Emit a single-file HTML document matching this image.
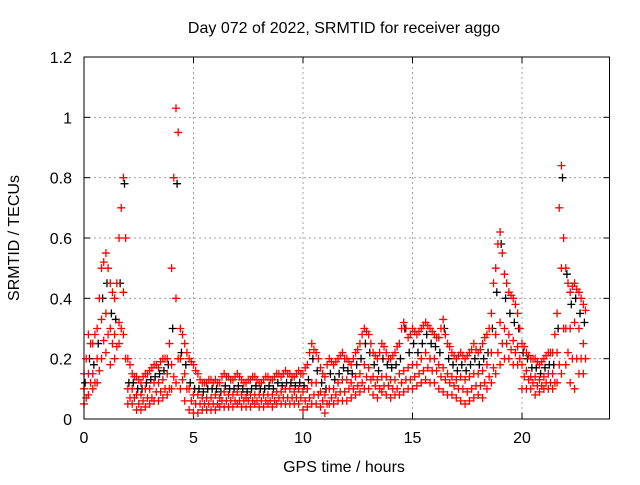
<!DOCTYPE html>
<html><head><meta charset="utf-8"><style>
body{margin:0;background:#fff;}
svg text{font-family:"Liberation Sans",sans-serif;font-size:16px;fill:#000;}
</style></head><body>
<svg width="640" height="480" id="chart">
<g id="grid"></g>
<g id="axes"></g>
<g id="pts"></g>
<rect x="84" y="57" width="525.5" height="362" fill="none" stroke="#000" stroke-width="1"/>
<text x="344" y="33" text-anchor="middle">Day 072 of 2022, SRMTID for receiver aggo</text>
<text x="344" y="472" text-anchor="middle">GPS time / hours</text>
<text x="19" y="238" text-anchor="middle" transform="rotate(-90 19 238)">SRMTID / TECUs</text>
</svg>
<script>
const xTicks=[0,5,10,15,20];
const yTicks=[0,0.2,0.4,0.6,0.8,1,1.2];
const yTickLabels=["0","0.2","0.4","0.6","0.8","1","1.2"];
const step=0.2;
const hi=[.15,.28,.25,.3,.5,.55,.45,.4,.6,.8, .2,.15,.14,.12,.15,.16,.18,.17,.2,.2, .5,1.03,.3,.25,.2,.18,.15,.12,.12,.13, .13,.12,.15,.14,.13,.15,.13,.12,.13,.14, .12,.13,.14,.13,.15,.14,.16,.15,.14,.16, .15,.18,.25,.22,.17,.14,.2,.18,.2,.22, .2,.18,.22,.25,.3,.28,.22,.2,.25,.22, .2,.22,.25,.32,.27,.3,.28,.3,.32,.3, .28,.27,.33,.25,.22,.2,.22,.2,.22,.25, .22,.25,.28,.35,.5,.62,.48,.42,.4,.35, .25,.22,.2,.2,.18,.2,.22,.22,.35,.84, .5,.42,.45,.42,.38];
const upper=[.2,.25,.28,.4,.52,.5,.42,.45,.7,.6, .18,.14,.13,.14,.15,.17,.18,.19,.2,.25, .8,.95,.28,.22,.19,.16,.13,.12,.13,.12, .12,.14,.14,.13,.14,.14,.12,.13,.14,.13, .12,.14,.13,.14,.15,.15,.15,.14,.15,.15, .17,.22,.23,.2,.15,.18,.19,.19,.21,.2, .19,.2,.23,.28,.29,.25,.21,.22,.24,.2, .21,.24,.3,.3,.28,.29,.29,.31,.31,.29, .27,.3,.28,.24,.21,.21,.21,.21,.23,.23, .23,.27,.3,.45,.58,.55,.45,.41,.38,.3, .24,.21,.2,.19,.19,.21,.22,.28,.7,.6, .45,.44,.43,.4,.36];
const mid=[.1,.15,.15,.2,.33,.35,.3,.28,.32,.42, .1,.1,.08,.08,.1,.1,.12,.12,.13,.15, .18,.4,.2,.15,.1,.08,.08,.07,.07,.07, .08,.07,.09,.08,.08,.09,.08,.07,.08,.08, .08,.08,.08,.08,.09,.09,.1,.1,.09,.1, .09,.1,.12,.12,.09,.08,.1,.1,.12,.13, .13,.12,.14,.15,.18,.17,.14,.13,.14,.14, .13,.13,.15,.16,.17,.18,.18,.2,.22,.2, .2,.18,.17,.15,.14,.13,.14,.13,.14,.15, .15,.16,.18,.22,.28,.32,.3,.28,.26,.24, .18,.16,.14,.14,.13,.14,.15,.15,.22,.5, .3,.3,.32,.3,.25];
const lower=[.07,.12,.12,.16,.26,.28,.25,.24,.3,.2, .07,.07,.05,.06,.07,.07,.09,.09,.1,.1, .14,.2,.13,.1,.06,.05,.05,.05,.05,.05, .05,.06,.06,.06,.06,.06,.06,.06,.06,.06, .06,.06,.06,.06,.07,.07,.07,.07,.07,.07, .06,.07,.08,.08,.06,.05,.07,.08,.09,.09, .1,.1,.11,.12,.14,.13,.11,.1,.11,.11, .1,.1,.12,.13,.13,.14,.15,.16,.17,.16, .16,.14,.13,.12,.11,.1,.1,.09,.1,.11, .11,.12,.14,.17,.22,.25,.25,.23,.22,.2, .14,.13,.12,.11,.11,.12,.12,.12,.18,.3, .22,.2,.2,.2,.2];
const lo=[.05,.08,.1,.12,.2,.22,.18,.2,.25,.28, .05,.05,.03,.03,.04,.05,.06,.06,.07,.08, .1,.12,.1,.06,.03,.02,.02,.03,.03,.03, .03,.04,.04,.04,.04,.05,.04,.04,.04,.05, .04,.04,.05,.04,.05,.05,.05,.05,.05,.05, .03,.04,.05,.05,.04,.02,.05,.05,.06,.06, .06,.07,.08,.09,.1,.1,.08,.07,.09,.08, .07,.08,.08,.09,.1,.1,.11,.12,.13,.12, .12,.1,.09,.08,.08,.07,.06,.05,.06,.07, .08,.07,.1,.12,.15,.18,.2,.2,.18,.18, .1,.1,.1,.08,.09,.1,.1,.1,.12,.15, .18,.12,.1,.15,.15];
const blk=[.12,.2,.18,.25,.4,.45,.35,.33,.45,.78, .12,.12,.1,.1,.12,.13,.14,.15,.16,.18, .3,.78,.22,.18,.12,.1,.1,.09,.1,.1, .1,.09,.11,.1,.1,.11,.1,.09,.1,.11, .1,.1,.11,.1,.12,.11,.12,.12,.11,.12, .11,.13,.2,.16,.12,.1,.15,.13,.15,.17, .16,.15,.18,.2,.25,.22,.18,.16,.2,.18, .17,.18,.2,.3,.22,.25,.22,.25,.28,.25, .24,.22,.3,.2,.18,.16,.18,.16,.18,.2, .18,.2,.22,.3,.42,.58,.4,.35,.32,.3, .22,.2,.17,.17,.15,.17,.18,.18,.3,.8, .48,.38,.4,.35,.32];
const X=t=>84+t*21.9, Y=v=>419-v*301.67;
const ns="http://www.w3.org/2000/svg";
const grid=document.getElementById('grid'),axes=document.getElementById('axes'),pts=document.getElementById('pts');
function mk(tag,at,par){const e=document.createElementNS(ns,tag);for(const k in at)e.setAttribute(k,at[k]);par.appendChild(e);return e;}
xTicks.forEach(t=>{
 const x=X(t);
 if(t>0){const g=mk('line',{x1:x,x2:x,y1:57,y2:419,stroke:'#a0a0a0','stroke-dasharray':'2,3'},grid);
 
 }
 mk('line',{x1:x,x2:x,y1:419,y2:413,stroke:'#000'},axes);
 mk('line',{x1:x,x2:x,y1:57,y2:63,stroke:'#000'},axes);
 const tx=mk('text',{x:x,y:443,'text-anchor':'middle'},axes);tx.textContent=t;
 
 
});
yTicks.forEach((v,i)=>{
 const y=Y(v);
 if(v>0&&v<1.2){const g=mk('line',{x1:84,x2:609.5,y1:y,y2:y,stroke:'#a0a0a0','stroke-dasharray':'2,3'},grid);
 
 }
 mk('line',{x1:84,x2:90,y1:y,y2:y,stroke:'#000'},axes);
 mk('line',{x1:609.5,x2:603.5,y1:y,y2:y,stroke:'#000'},axes);
 const tx=mk('text',{x:72,y:y+6,'text-anchor':'end'},axes);tx.textContent=yTickLabels[i];
 
 
});
function plus(t,v,c){
 const x=X(t),y=Y(v);
 const p=mk('path',{d:`M${x-4},${y}h8M${x},${y-4}v8`,stroke:c,'stroke-width':1.3,fill:'none'},pts);
 
 
}
blk.forEach((v,i)=>plus(i*step+0.05,v,'#000'));
[hi,mid,lo].forEach(a=>a.forEach((v,i)=>plus(i*step,v,'#ff0000')));
[upper,lower].forEach(a=>a.forEach((v,i)=>plus(i*step+0.1,v,'#ff0000')));
</script>
</body></html>
